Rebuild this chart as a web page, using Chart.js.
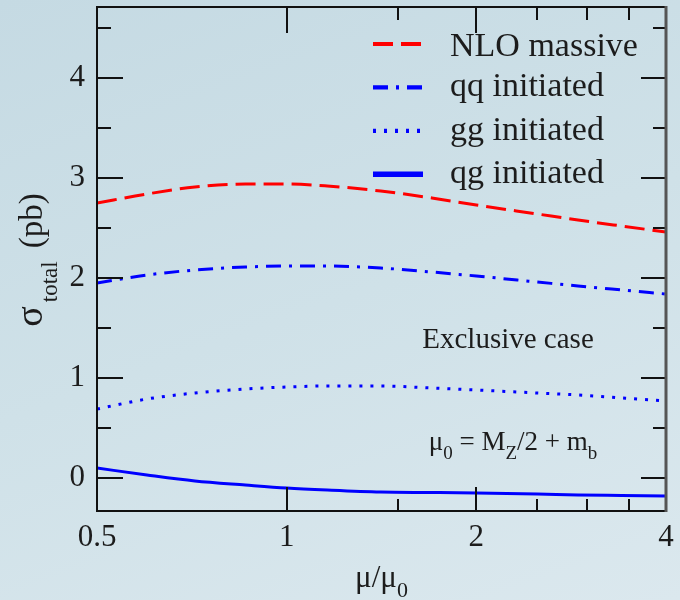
<!DOCTYPE html>
<html><head><meta charset="utf-8">
<script src="https://cdn.jsdelivr.net/npm/chart.js@4.4.1/dist/chart.umd.min.js"></script>
<style>
html,body{margin:0;padding:0;}
body{width:680px;height:600px;overflow:hidden;background:linear-gradient(160deg,#c5dae3 0%,#cfe1e8 50%,#dbe8ee 100%);}
canvas{display:block;}
</style></head><body>
<canvas id="c" width="680" height="600"></canvas>
<script>
// ---- data ----
const muValues     = [0.5, 0.6, 0.715, 0.86, 1.0, 1.16, 1.41, 1.7, 2.0, 2.5, 2.9, 3.4, 4.0];
const nloMassive   = [2.75, 2.84, 2.91, 2.94, 2.94, 2.92, 2.87, 2.80, 2.73, 2.64, 2.58, 2.52, 2.46];
const qqInitiated  = [1.95, 2.03, 2.08, 2.11, 2.12, 2.12, 2.10, 2.06, 2.02, 1.96, 1.92, 1.88, 1.84];
const ggInitiated  = [0.69, 0.79, 0.85, 0.89, 0.91, 0.92, 0.92, 0.90, 0.88, 0.85, 0.83, 0.80, 0.77];
const qgInitiated  = [0.10, 0.03, -0.03, -0.07, -0.10, -0.12, -0.14, -0.145, -0.15, -0.16, -0.17, -0.175, -0.18];
const seriesLabels = ['NLO massive', 'qq initiated', 'gg initiated', 'qg initiated'];
const xTickLabels  = [0.5, 1, 2, 4];
const xInnerMajor  = [1, 2];
const xMinorTicks  = [1.5, 2.5, 3, 3.5];
const yTickLabels  = [0, 1, 2, 3, 4];
const yMinorTicks  = [0.5, 1.5, 2.5, 3.5, 4.5];

const SERIF = '"Liberation Serif","DejaVu Serif",serif';
const INK = '#1c1c1c';
const toPts = vals => muValues.map((m, i) => ({x: m, y: vals[i]}));

const decor = {
  id: 'decor',
  afterDraw(chart) {
    const {ctx, chartArea: a, scales: {x, y}} = chart;
    ctx.save();
    const seg = (x1, y1, x2, y2) => { ctx.beginPath(); ctx.moveTo(x1, y1); ctx.lineTo(x2, y2); ctx.stroke(); };
    ctx.strokeStyle = '#111'; ctx.lineWidth = 2;
    yTickLabels.forEach(v => { const p = Math.round(y.getPixelForValue(v)); seg(a.left, p, a.left + 26, p); seg(a.right, p, a.right - 25, p); });
    yMinorTicks.forEach(v => { const p = Math.round(y.getPixelForValue(v)); seg(a.left, p, a.left + 14, p); seg(a.right, p, a.right - 13, p); });
    xInnerMajor.forEach(v => { const p = Math.round(x.getPixelForValue(v)); seg(p, a.bottom, p, a.bottom - 24); seg(p, a.top, p, a.top + 26); });
    xMinorTicks.forEach(v => { const p = Math.round(x.getPixelForValue(v)); seg(p, a.bottom, p, a.bottom - 12); seg(p, a.top, p, a.top + 13); });
    // frame
    ctx.strokeStyle = '#111'; ctx.lineWidth = 2;
    seg(a.left, a.top - 1, a.left, a.bottom + 1);
    seg(a.left - 1, a.top, a.right, a.top);
    seg(a.left - 1, a.bottom, a.right, a.bottom);
    ctx.strokeStyle = '#555'; ctx.lineWidth = 3;
    seg(a.right, a.top - 1, a.right, a.bottom + 1);

    // legend
    ctx.fillStyle = INK;
    ctx.textBaseline = 'alphabetic';
    chart.data.datasets.forEach((ds, i) => {
      const ly = 44 + i * 43.4;
      ctx.strokeStyle = ds.borderColor;
      ctx.lineWidth = ds.borderWidth + (i === 3 ? 2.5 : 1.2);
      ctx.setLineDash(ds.borderDash || []);
      seg(373, ly, 423, ly);
      ctx.setLineDash([]);
      ctx.font = '34px ' + SERIF;
      ctx.textAlign = 'left';
      ctx.fillText(ds.label, 450, ly + (i === 0 ? 12 : 9));
    });

    // annotations
    ctx.font = '29px ' + SERIF;
    ctx.textAlign = 'center';
    ctx.fillText('Exclusive case', 508, 348);

    const parts = [['μ', 0], ['0', 1], [' = M', 0], ['Z', 1], ['/2 + m', 0], ['b', 1]];
    const mainF = '27px ' + SERIF, subF = '19px ' + SERIF;
    let w = 0;
    parts.forEach(([t, s]) => { ctx.font = s ? subF : mainF; w += ctx.measureText(t).width; });
    let cx = 513 - w / 2;
    ctx.textAlign = 'left';
    parts.forEach(([t, s]) => { ctx.font = s ? subF : mainF; ctx.fillText(t, cx, s ? 459 : 450); cx += ctx.measureText(t).width; });

    // x title
    const xt = [['μ/μ', 0], ['0', 1]];
    const xMain = '31px ' + SERIF, xSub = '22px ' + SERIF;
    w = 0; xt.forEach(([t, s]) => { ctx.font = s ? xSub : xMain; w += ctx.measureText(t).width; });
    cx = (a.left + a.right) / 2 - w / 2;
    xt.forEach(([t, s]) => { ctx.font = s ? xSub : xMain; ctx.fillText(t, cx, s ? 597 : 587); cx += ctx.measureText(t).width; });

    // y title (rotated)
    const yt = [['σ', '38px ', 0, 0], ['total', '23px ', 15, 4], ['(pb)', '33px ', 0, 13]];
    w = 0; yt.forEach(([t, f, o, g]) => { ctx.font = f + SERIF; w += ctx.measureText(t).width + g; });
    ctx.translate(42, 260);
    ctx.rotate(-Math.PI / 2);
    cx = -w / 2;
    yt.forEach(([t, f, o, g]) => { ctx.font = f + SERIF; cx += g; ctx.fillText(t, cx, o); cx += ctx.measureText(t).width; });
    ctx.restore();
  }
};

new Chart(document.getElementById('c'), {
  type: 'line',
  data: {
    datasets: [
      {label: seriesLabels[0], data: toPts(nloMassive),  borderColor: '#ff0000', borderWidth: 3, borderDash: [20, 8]},
      {label: seriesLabels[1], data: toPts(qqInitiated), borderColor: '#0000ff', borderWidth: 3, borderDash: [15, 8, 3, 8]},
      {label: seriesLabels[2], data: toPts(ggInitiated), borderColor: '#0000ff', borderWidth: 3, borderDash: [3, 8]},
      {label: seriesLabels[3], data: toPts(qgInitiated), borderColor: '#0000ff', borderWidth: 3}
    ]
  },
  options: {
    responsive: false,
    animation: false,
    devicePixelRatio: 1,
    layout: {padding: {top: 7, right: 14, left: 0, bottom: 0}},
    elements: {point: {radius: 0}, line: {cubicInterpolationMode: 'monotone', fill: false}},
    plugins: {legend: {display: false}, tooltip: {enabled: false}},
    scales: {
      x: {
        type: 'logarithmic', min: 0.5, max: 4,
        afterBuildTicks: s => { s.ticks = xTickLabels.map(v => ({value: v})); },
        afterFit: s => { s.height = 89; s.paddingLeft = 0; s.paddingRight = 0; },
        grid: {display: false, drawTicks: false},
        border: {display: false},
        ticks: {font: {family: SERIF, size: 31}, color: INK, padding: 8, maxRotation: 0, autoSkip: false,
                callback: v => String(v)}
      },
      y: {
        type: 'linear', min: -0.33, max: 4.71,
        afterBuildTicks: s => { s.ticks = yTickLabels.map(v => ({value: v})); },
        afterFit: s => { s.width = 97; s.paddingTop = 0; s.paddingBottom = 0; },
        grid: {display: false, drawTicks: false},
        border: {display: false},
        ticks: {font: {family: SERIF, size: 31}, color: INK, padding: 12, callback: v => String(v)}
      }
    }
  },
  plugins: [decor]
});
</script>
</body></html>
